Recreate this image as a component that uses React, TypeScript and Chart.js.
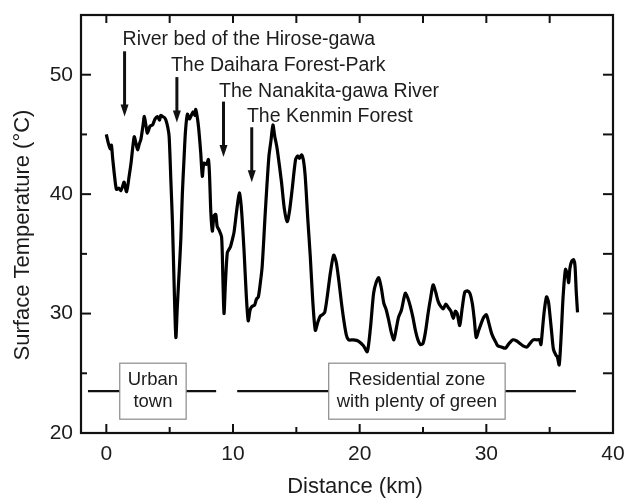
import { useEffect, useRef } from "react";
import { Chart, registerables } from "chart.js";

Chart.register(...registerables);

// ---- data ----
const distanceKm = [
  0.0, 0.15, 0.3, 0.4, 0.5, 0.65, 0.8, 1.0, 1.15, 1.3, 1.4, 1.6, 1.8, 1.95, 2.2, 2.35, 2.47, 2.6, 2.73, 2.9,
  3.0, 3.15, 3.25, 3.45, 3.65, 3.85, 4.04, 4.2, 4.3, 4.44, 4.6, 4.7, 4.85, 4.96, 5.1, 5.22, 5.35, 5.49, 5.6, 5.75,
  5.88, 6.0, 6.14, 6.25, 6.4, 6.55, 6.67, 6.85, 7.0, 7.06, 7.2, 7.3, 7.45, 7.58, 7.7, 7.9, 8.06, 8.15, 8.25, 8.37,
  8.5, 8.64, 8.75, 8.9, 9.1, 9.2, 9.29, 9.4, 9.55, 9.7, 9.8, 9.95, 10.08, 10.3, 10.5, 10.65, 10.87, 11.05, 11.2, 11.35,
  11.5, 11.7, 11.85, 12.0, 12.15, 12.3, 12.55, 12.83, 13.0, 13.15, 13.3, 13.4, 13.5, 13.83, 14.05, 14.28, 14.45, 14.67, 14.94, 15.1,
  15.25, 15.4, 15.55, 15.7, 15.9, 16.1, 16.3, 16.5, 16.7, 16.9, 17.05, 17.24, 17.45, 17.7, 17.95, 18.15, 18.35, 18.55, 18.74, 18.95,
  19.13, 19.5, 19.9, 20.3, 20.6, 20.85, 21.1, 21.3, 21.5, 21.7, 21.9, 22.1, 22.3, 22.5, 22.7, 22.9, 23.07, 23.3, 23.6, 23.8,
  24.0, 24.2, 24.4, 24.6, 24.8, 25.0, 25.2, 25.4, 25.6, 25.8, 26.0, 26.2, 26.4, 26.6, 26.8, 27.0, 27.2, 27.4, 27.55, 27.7,
  27.9, 28.1, 28.3, 28.5, 28.7, 28.9, 29.05, 29.2, 29.4, 29.6, 29.8, 30.0, 30.2, 30.4, 30.55, 30.75, 30.9, 31.2, 31.5, 31.8,
  32.1, 32.4, 32.65, 32.9, 33.2, 33.45, 33.7, 34.0, 34.2, 34.3, 34.35, 34.55, 34.75, 34.9, 35.0, 35.15, 35.3, 35.5, 35.6, 35.75,
  35.9, 36.06, 36.25, 36.4, 36.5, 36.6, 36.75, 36.9, 37.0, 37.1, 37.2,
];

const temperatureC = [
  45.0, 44.3, 43.8, 44.1, 43.0, 41.5, 40.4, 40.5, 40.3, 40.7, 41.0, 40.2, 41.5, 42.6, 44.8, 44.2, 43.7, 44.2, 44.6, 45.8,
  46.5, 45.6, 45.1, 45.7, 45.8, 46.3, 46.5, 46.2, 46.6, 46.5, 46.4, 46.2, 45.6, 44.8, 41.0, 37.6, 32.5, 28.0, 30.5, 33.5,
  36.2, 40.0, 43.1, 45.3, 46.7, 46.3, 46.5, 46.9, 46.6, 47.1, 46.3, 45.4, 43.5, 41.5, 42.6, 42.5, 42.9, 41.5, 38.5, 36.9,
  38.2, 38.3, 37.3, 37.0, 36.4, 33.0, 30.0, 32.5, 35.1, 35.4, 35.6, 36.2, 36.8, 38.7, 40.1, 39.0, 35.3, 31.5, 29.4, 30.3,
  30.6, 30.7, 31.2, 31.4, 32.5, 33.9, 38.5, 43.1, 44.5, 45.8, 44.8, 44.3, 43.7, 41.0, 38.8, 37.7, 38.5, 40.4, 42.9, 43.2,
  43.0, 43.3, 42.9, 41.5, 38.0, 34.8, 31.0, 28.6, 29.3, 29.8, 29.9, 30.1, 31.5, 33.5, 34.9, 34.3, 32.8, 31.0, 29.5, 28.2,
  27.8, 27.8, 27.7, 27.3, 26.8, 28.8, 31.7, 32.6, 33.0, 32.2, 30.9, 30.3, 29.4, 28.4, 27.8, 28.8, 29.7, 30.3, 31.7, 31.3,
  30.6, 29.7, 28.6, 27.8, 27.4, 27.5, 28.5, 30.0, 31.3, 32.4, 31.8, 31.0, 30.6, 30.4, 30.8, 30.5, 30.2, 29.6, 30.2, 30.0,
  29.0, 30.5, 31.8, 31.9, 31.7, 30.8, 29.5, 28.0, 28.6, 29.2, 29.7, 29.9, 29.2, 28.4, 28.0, 27.6, 27.3, 27.2, 27.1, 27.5,
  27.8, 27.7, 27.5, 27.3, 27.2, 27.5, 27.8, 27.8, 27.8, 27.4, 27.7, 30.0, 31.4, 31.0, 30.1, 28.5, 27.0, 26.5, 26.4, 25.7,
  28.0, 31.4, 33.7, 33.2, 32.6, 33.8, 34.4, 34.5, 34.0, 31.8, 30.1,
];

const xTickValues = [0, 10, 20, 30, 40];
const xMinorTickValues = [5, 15, 25, 35];
const yTickValues = [20, 30, 40, 50];
const yMinorTickValues = [25, 35, 45];

const xAxisTitle = "Distance (km)";
const yAxisTitle = "Surface Temperature (°C)";

const annotationLabels = [
  "River bed of the Hirose-gawa",
  "The Daihara Forest-Park",
  "The Nanakita-gawa River",
  "The Kenmin Forest",
];
const annotationTextX = [1.28, 5.1, 8.9, 11.1];
const annotationTextY = [52.94, 50.76, 48.6, 46.5];
const arrowX = [1.44, 5.57, 9.25, 11.48];
const arrowTop = [51.96, 49.8, 47.75, 45.6];
const arrowTip = [46.5, 46.0, 43.1, 41.0];

const zoneLabels = [
  ["Urban", "town"],
  ["Residential zone", "with plenty of green"],
];
const zoneStart = [-1.45, 10.33];
const zoneEnd = [8.67, 37.07];
const zoneLabelCenter = [3.68, 24.52];
const zoneLevel = 23.5;

const FONT = "'Liberation Sans', Arial, sans-serif";
const TEXT = "#1c1c1c";

const decorPlugin = {
  id: "decor",
  afterDatasetsDraw(chart: any) {
    const { ctx, chartArea, scales } = chart;
    const xs = scales.x;
    const ys = scales.y;
    const { left, right, top, bottom } = chartArea;
    ctx.save();

    // zone boxes
    ctx.font = `18.5px ${FONT}`;
    ctx.textAlign = "center";
    ctx.textBaseline = "middle";
    zoneLabels.forEach((lines, i) => {
      const cx = xs.getPixelForValue(zoneLabelCenter[i]);
      const cy = ys.getPixelForValue(zoneLevel);
      const w = Math.max(...lines.map((l) => ctx.measureText(l).width)) + 16;
      const h = 56;
      ctx.fillStyle = "#ffffff";
      ctx.fillRect(cx - w / 2, cy - h / 2, w, h);
      ctx.strokeStyle = "#8a8a8a";
      ctx.lineWidth = 1.2;
      ctx.strokeRect(cx - w / 2, cy - h / 2, w, h);
      ctx.fillStyle = TEXT;
      ctx.fillText(lines[0], cx, cy - 11);
      ctx.fillText(lines[1], cx, cy + 11);
    });

    // annotation labels
    ctx.textAlign = "left";
    ctx.textBaseline = "middle";
    ctx.font = `19.5px ${FONT}`;
    ctx.fillStyle = TEXT;
    annotationLabels.forEach((t, i) => {
      ctx.fillText(t, xs.getPixelForValue(annotationTextX[i]), ys.getPixelForValue(annotationTextY[i]));
    });

    // arrows
    ctx.strokeStyle = "#111";
    ctx.fillStyle = "#111";
    ctx.lineWidth = 3;
    arrowX.forEach((ax, i) => {
      const x = xs.getPixelForValue(ax);
      const y0 = ys.getPixelForValue(arrowTop[i]);
      const y1 = ys.getPixelForValue(arrowTip[i]);
      ctx.beginPath();
      ctx.moveTo(x, y0);
      ctx.lineTo(x, y1 - 10);
      ctx.stroke();
      ctx.beginPath();
      ctx.moveTo(x - 4, y1 - 12);
      ctx.lineTo(x + 4, y1 - 12);
      ctx.lineTo(x, y1);
      ctx.closePath();
      ctx.fill();
    });

    // frame
    ctx.strokeStyle = "#111";
    ctx.lineWidth = 2.2;
    ctx.strokeRect(left, top, right - left, bottom - top);

    // inward ticks
    ctx.lineWidth = 2;
    const tick = (x0: number, y0: number, x1: number, y1: number) => {
      ctx.beginPath();
      ctx.moveTo(x0, y0);
      ctx.lineTo(x1, y1);
      ctx.stroke();
    };
    xTickValues.forEach((v) => {
      const x = xs.getPixelForValue(v);
      if (x > left + 2 && x < right - 2) {
        tick(x, bottom, x, bottom - 9);
        tick(x, top, x, top + 8);
      }
    });
    xMinorTickValues.forEach((v) => {
      const x = xs.getPixelForValue(v);
      tick(x, bottom, x, bottom - 6);
      tick(x, top, x, top + 8);
    });
    yTickValues.forEach((v) => {
      const y = ys.getPixelForValue(v);
      if (y > top + 2 && y < bottom - 2) {
        tick(left, y, left + 10, y);
        tick(right, y, right - 10, y);
      }
    });
    yMinorTickValues.forEach((v) => {
      const y = ys.getPixelForValue(v);
      tick(left, y, left + 6, y);
      tick(right, y, right - 10, y);
    });

    // axis titles
    ctx.fillStyle = TEXT;
    ctx.font = `22px ${FONT}`;
    ctx.textAlign = "center";
    ctx.textBaseline = "middle";
    ctx.fillText(xAxisTitle, (left + right) / 2 + 8, 487);
    ctx.save();
    ctx.translate(23, (top + bottom) / 2 + 11);
    ctx.rotate(-Math.PI / 2);
    ctx.fillText(yAxisTitle, 0, 0);
    ctx.restore();

    ctx.restore();
  },
};

export default function App() {
  const canvasRef = useRef<HTMLCanvasElement | null>(null);

  useEffect(() => {
    document.body.style.margin = "0";
    const canvas = canvasRef.current;
    if (!canvas) return;
    const points = distanceKm.map((d, i) => ({ x: d, y: temperatureC[i] }));
    const zoneSets = zoneStart.map((s, i) => ({
      data: [
        { x: s, y: zoneLevel },
        { x: zoneEnd[i], y: zoneLevel },
      ],
      borderColor: "#111",
      borderWidth: 2.2,
      pointRadius: 0,
      tension: 0,
    }));
    const chart = new Chart(canvas, {
      type: "line",
      data: {
        datasets: [
          {
            data: points,
            borderColor: "#000",
            borderWidth: 3.2,
            pointRadius: 0,
            tension: 0.25,
            borderJoinStyle: "round",
          },
          ...zoneSets,
        ],
      },
      options: {
        animation: false,
        responsive: true,
        maintainAspectRatio: false,
        layout: { padding: { top: 15, right: 14, left: 0, bottom: 0 } },
        plugins: { legend: { display: false }, tooltip: { enabled: false } },
        scales: {
          x: {
            type: "linear",
            min: -2,
            max: 40,
            grid: { display: false, drawTicks: false },
            border: { display: false },
            ticks: { padding: 9, color: TEXT, font: { family: FONT, size: 21 } },
            afterBuildTicks: (s: any) => {
              s.ticks = xTickValues.map((v) => ({ value: v }));
            },
            afterFit: (s: any) => {
              s.height = 67;
              s.paddingLeft = 0;
              s.paddingRight = 0;
            },
          },
          y: {
            type: "linear",
            min: 20,
            max: 55,
            grid: { display: false, drawTicks: false },
            border: { display: false },
            ticks: { padding: 8, color: TEXT, font: { family: FONT, size: 21 } },
            afterBuildTicks: (s: any) => {
              s.ticks = yTickValues.map((v) => ({ value: v }));
            },
            afterFit: (s: any) => {
              s.width = 81;
              s.paddingTop = 0;
              s.paddingBottom = 0;
            },
          },
        },
      },
      plugins: [decorPlugin],
    });
    return () => chart.destroy();
  }, []);

  return (
    <div style={{ width: 627, height: 500, position: "relative", background: "#fff" }}>
      <canvas ref={canvasRef} />
    </div>
  );
}
